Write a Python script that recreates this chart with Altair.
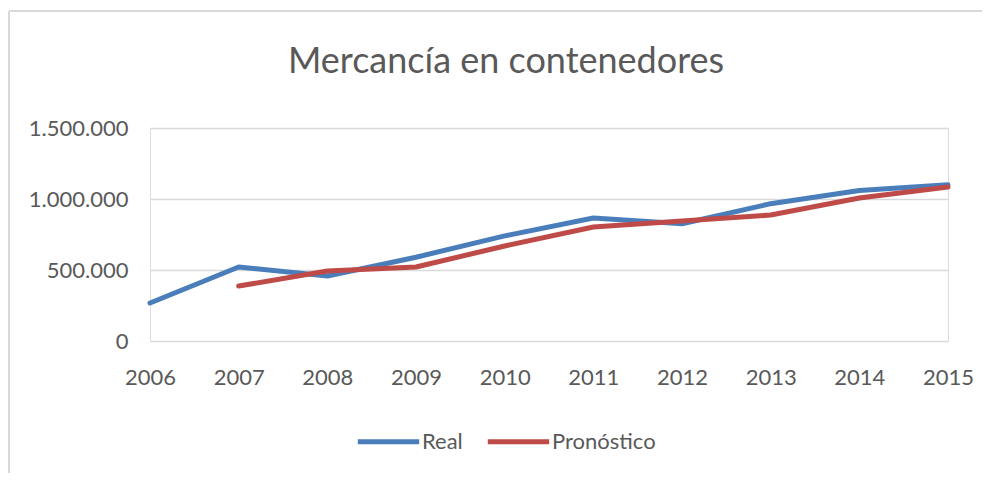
import altair as alt
import pandas as pd

years = [2006, 2007, 2008, 2009, 2010, 2011, 2012, 2013, 2014, 2015]
real = [268000, 521000, 458000, 590000, 740000, 866000, 826000, 967000, 1060000, 1100000]
pronostico = [None, 387000, 493000, 521000, 669000, 803000, 845000, 887000, 1007000, 1085000]
series_names = ["Real", "Pronóstico"]
y_ticks = [0, 500000, 1000000, 1500000]

rows = []
for name, vals in zip(series_names, [real, pronostico]):
    for yr, v in zip(years, vals):
        if v is not None:
            rows.append({"year": yr, "value": v, "serie": name})
df = pd.DataFrame(rows)

FONT = "Lato"
GRAY = "#595959"

lines = alt.Chart(df).mark_line(strokeWidth=5, strokeCap="round", strokeJoin="round").encode(
    x=alt.X("year:O", scale=alt.Scale(padding=0),
            axis=alt.Axis(title=None, domain=False, ticks=False, labelAngle=0,
                          labelPadding=26, labelFontSize=22, labelColor=GRAY, labelFont=FONT)),
    y=alt.Y("value:Q", scale=alt.Scale(domain=[0, 1500000]),
            axis=alt.Axis(title=None, domain=False, ticks=False, values=y_ticks, format=",.0f",
                          labelPadding=22, labelFontSize=22, labelColor=GRAY, labelFont=FONT,
                          gridColor="#d9d9d9", gridWidth=1.5)),
    color=alt.Color("serie:N", sort=series_names,
                    scale=alt.Scale(domain=series_names, range=["#4a7ebb", "#be4b48"]),
                    legend=alt.Legend(title=None, orient="none", direction="horizontal",
                                      legendX=205, legendY=280,
                                      symbolType="stroke", symbolStrokeWidth=5,
                                      symbolSize=3770, labelOffset=0, columnPadding=14,
                                      labelFontSize=22, labelColor=GRAY, labelFont=FONT)),
    detail="serie:N",
)

frame_df = pd.DataFrame({"k": [0]})
top_border = alt.Chart(frame_df).mark_rule(color="#d9d9d9", strokeWidth=2).encode(
    x=alt.value(-141), x2=alt.value(840), y=alt.value(-117)
)
left_border = alt.Chart(frame_df).mark_rule(color="#d9d9d9", strokeWidth=2).encode(
    x=alt.value(-141), y=alt.value(-117), y2=alt.value(353)
)

chart = alt.layer(lines, top_border, left_border).properties(
    width=798, height=213,
    padding={"left": 142, "top": 120, "right": 34, "bottom": 132},
    autosize=alt.AutoSizeParams(type="none"),
    title=alt.TitleParams("Mercancía en contenedores", fontSize=36, font=FONT,
                          fontWeight="normal", color=GRAY, anchor="middle",
                          frame="group", dx=-43, offset=-99, baseline="alphabetic"),
).configure_view(strokeWidth=0).configure(
    locale={"number": {"decimal": ",", "thousands": ".", "grouping": [3], "currency": ["", " €"]}}
)

chart.save("out.html", embed_options={"renderer": "svg", "actions": False})
